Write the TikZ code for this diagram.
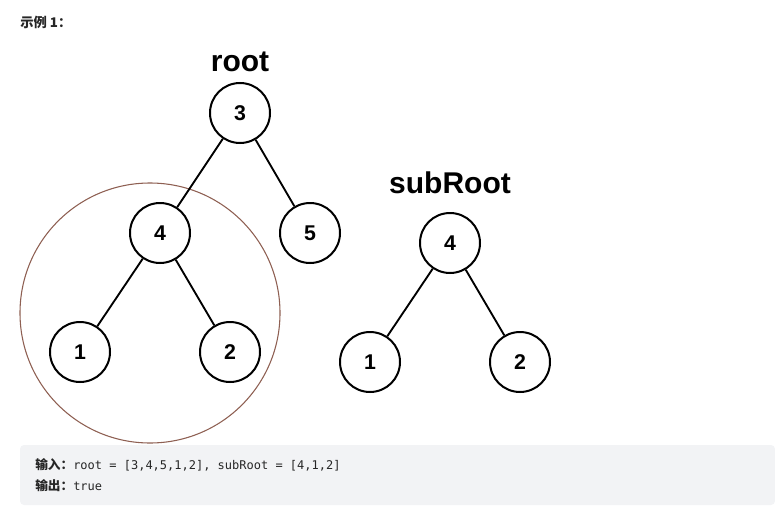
\documentclass[tikz,border=0pt]{standalone}
\usepackage{fontspec}
\setmainfont{Liberation Sans}
\setmonofont{DejaVu Sans Mono}
\newfontfamily\cjk{Noto Sans CJK SC}
\definecolor{ringc}{HTML}{8E5F52}
\definecolor{boxc}{HTML}{F2F3F5}
\definecolor{txtc}{HTML}{262626}
\begin{document}
\begin{tikzpicture}[x=0.75pt,y=-0.75pt,
  tn/.style={circle,draw=black,line width=1.5pt,minimum size=45pt,inner sep=0pt,font=\bfseries\fontsize{16}{16}\selectfont,fill=white},
  edge/.style={line width=1.4pt},
  title/.style={font=\bfseries\fontsize{22.5}{22.5}\selectfont}]
\useasboundingbox (0,0) rectangle (775,521);
\node[circle,draw=ringc,line width=0.8pt,minimum size=195pt,inner sep=0pt] (ring) at (150,313) {};
\node[anchor=west,inner sep=0pt,font=\cjk\bfseries\fontsize{10}{10}\selectfont,text=txtc] (ex) at (20,22) {示例 1：};
\node[title] (rl) at (240,62) {root};
\node[title] (sl) at (450,183) {subRoot};
\node[tn] (r3) at (240,113) {3};
\node[tn] (r4) at (160,233) {4};
\node[tn] (r5) at (310,233) {5};
\node[tn] (r1) at (80,352) {1};
\node[tn] (r2) at (230,352) {2};
\node[tn] (s4) at (450,243) {4};
\node[tn] (s1) at (370,362) {1};
\node[tn] (s2) at (520,362) {2};
\draw[edge] (r3) -- (r4);
\draw[edge] (r3) -- (r5);
\draw[edge] (r4) -- (r1);
\draw[edge] (r4) -- (r2);
\draw[edge] (s4) -- (s1);
\draw[edge] (s4) -- (s2);
\fill[boxc,rounded corners=3pt] (20,445) rectangle (775,505);
\node[anchor=west,inner sep=0pt,text=txtc] (in) at (35,465) {{\cjk\bfseries\fontsize{9.5}{10}\selectfont 输入：}\fontsize{9}{10}\selectfont\ttfamily root = [3,4,5,1,2], subRoot = [4,1,2]};
\node[anchor=west,inner sep=0pt,text=txtc] (out) at (35,486) {{\cjk\bfseries\fontsize{9.5}{10}\selectfont 输出：}\fontsize{9}{10}\selectfont\ttfamily true};
\end{tikzpicture}
\end{document}
